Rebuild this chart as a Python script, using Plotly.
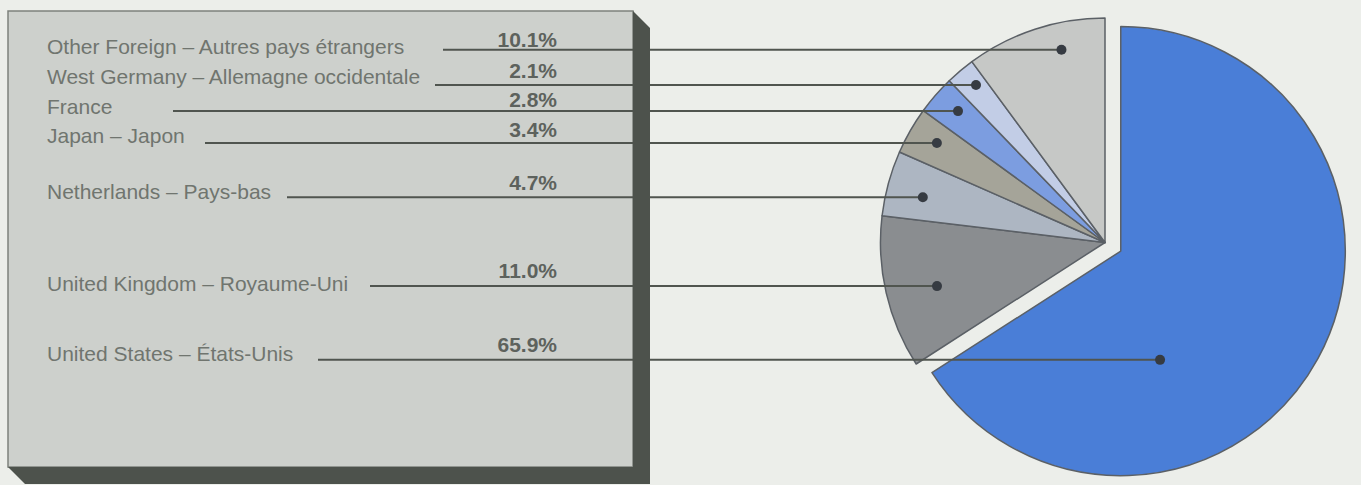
import math
import plotly.graph_objects as go

# ---- data -------------------------------------------------------------
countries = [
    "United States – États-Unis",
    "United Kingdom – Royaume-Uni",
    "Netherlands – Pays-bas",
    "Japan – Japon",
    "France",
    "West Germany – Allemagne occidentale",
    "Other Foreign – Autres pays étrangers",
]
shares = [65.9, 11.0, 4.7, 3.4, 2.8, 2.1, 10.1]
slice_colors = ["#4a7ed7", "#8a8d90", "#adb6c2", "#a5a499", "#7c9de0", "#c2cde6", "#c6c8c6"]
pulls = [0.08, 0, 0, 0, 0, 0, 0]

# ---- layout of the label panel (pixel units) ---------------------------
W, H = 1361, 485
label_x = 47
label_y = [356, 286, 194, 138, 109, 79, 49]
pct_x = 557
pct_y = [347, 273, 185, 132, 102, 73, 42]
line_start_x = [318, 370, 287, 205, 173, 435, 443]
# where each leader line ends inside its slice: fraction of the slice's
# angular span, and fraction of the radius
anchor_frac = [0.675, 0.46, 0.42, 0.56, 0.575, 0.61, 0.65]
anchor_rad = [0.515, 0.773, 0.836, 0.87, 0.878, 0.907, 0.88]

panel = dict(x0=8, y0=11, x1=633, y1=467, depth=17)

# ---- pie geometry (same rules plotly uses to place the pie) ------------
pie_cx = 1105.0
half = H / 2.0
dom_x = [(pie_cx - half) / W, (pie_cx + half) / W]
dom_y = [0.0, 1.0]
radius = min(half, half) / (1 + max(pulls))
pie_cy = H * (1 - dom_y[0]) - half

total = sum(shares)
anchors = []
start = 0.0
for v, p, fa, fr in zip(shares, pulls, anchor_frac, anchor_rad):
    span = 360.0 * v / total
    mid = math.radians(start + span / 2)
    cx = pie_cx + p * radius * math.sin(mid)
    cy = pie_cy - p * radius * math.cos(mid)
    ang = math.radians(start + fa * span)
    anchors.append((cx + fr * radius * math.sin(ang), cy - fr * radius * math.cos(ang)))
    start += span

line_col = "#50554f"
font_family = "Liberation Sans, Arial, sans-serif"

fig = go.Figure()

fig.add_trace(go.Pie(
    labels=countries,
    values=shares,
    sort=False,
    direction="clockwise",
    rotation=0,
    pull=pulls,
    marker=dict(colors=slice_colors, line=dict(color="#5b6066", width=1.5)),
    textinfo="none",
    hoverinfo="skip",
    domain=dict(x=dom_x, y=dom_y),
    showlegend=False,
))

fig.add_trace(go.Scatter(
    x=[label_x] * len(countries),
    y=label_y,
    mode="text",
    text=countries,
    textposition="middle right",
    textfont=dict(family=font_family, size=21, color="#70756f"),
    hoverinfo="skip",
    showlegend=False,
))

fig.add_trace(go.Scatter(
    x=[pct_x] * len(shares),
    y=pct_y,
    mode="text",
    text=[f"{v:.1f}%" for v in shares],
    textposition="middle left",
    textfont=dict(family=font_family, size=21, color="#5d625d", weight="bold"),
    hoverinfo="skip",
    showlegend=False,
))

shapes = []
# panel face
shapes.append(dict(type="rect", xref="x", yref="y", layer="below",
                   x0=panel["x0"], y0=panel["y0"], x1=panel["x1"], y1=panel["y1"],
                   fillcolor="#cdd0cc", line=dict(color="#7d817c", width=1.5)))
# leader lines
for (ax, ay), sx in zip(anchors, line_start_x):
    shapes.append(dict(type="line", xref="x", yref="y", layer="above",
                       x0=sx, y0=ay, x1=ax, y1=ay,
                       line=dict(color=line_col, width=2)))
# panel extrusion (drawn over the line segments that pass behind it)
d = panel["depth"]
x0, y0, x1, y1 = panel["x0"], panel["y0"], panel["x1"], panel["y1"]
shapes.append(dict(type="path", xref="x", yref="y", layer="above",
                   path=(f"M {x1},{y0} L {x1 + d},{y0 + d} L {x1 + d},{y1 + d} "
                         f"L {x0 + d},{y1 + d} L {x0},{y1} L {x1},{y1} Z"),
                   fillcolor="#4d524c", line=dict(width=0)))
# anchor dots
for ax, ay in anchors:
    shapes.append(dict(type="circle", xref="x", yref="y", layer="above",
                       x0=ax - 5, y0=ay - 5, x1=ax + 5, y1=ay + 5,
                       fillcolor="#363b42", line=dict(width=0)))

fig.update_layout(
    width=W, height=H,
    margin=dict(l=0, r=0, t=0, b=0),
    paper_bgcolor="#eceeea",
    plot_bgcolor="rgba(0,0,0,0)",
    xaxis=dict(range=[0, W], visible=False, fixedrange=True),
    yaxis=dict(range=[H, 0], visible=False, fixedrange=True),
    shapes=shapes,
    showlegend=False,
)

fig.write_html("out.html")
